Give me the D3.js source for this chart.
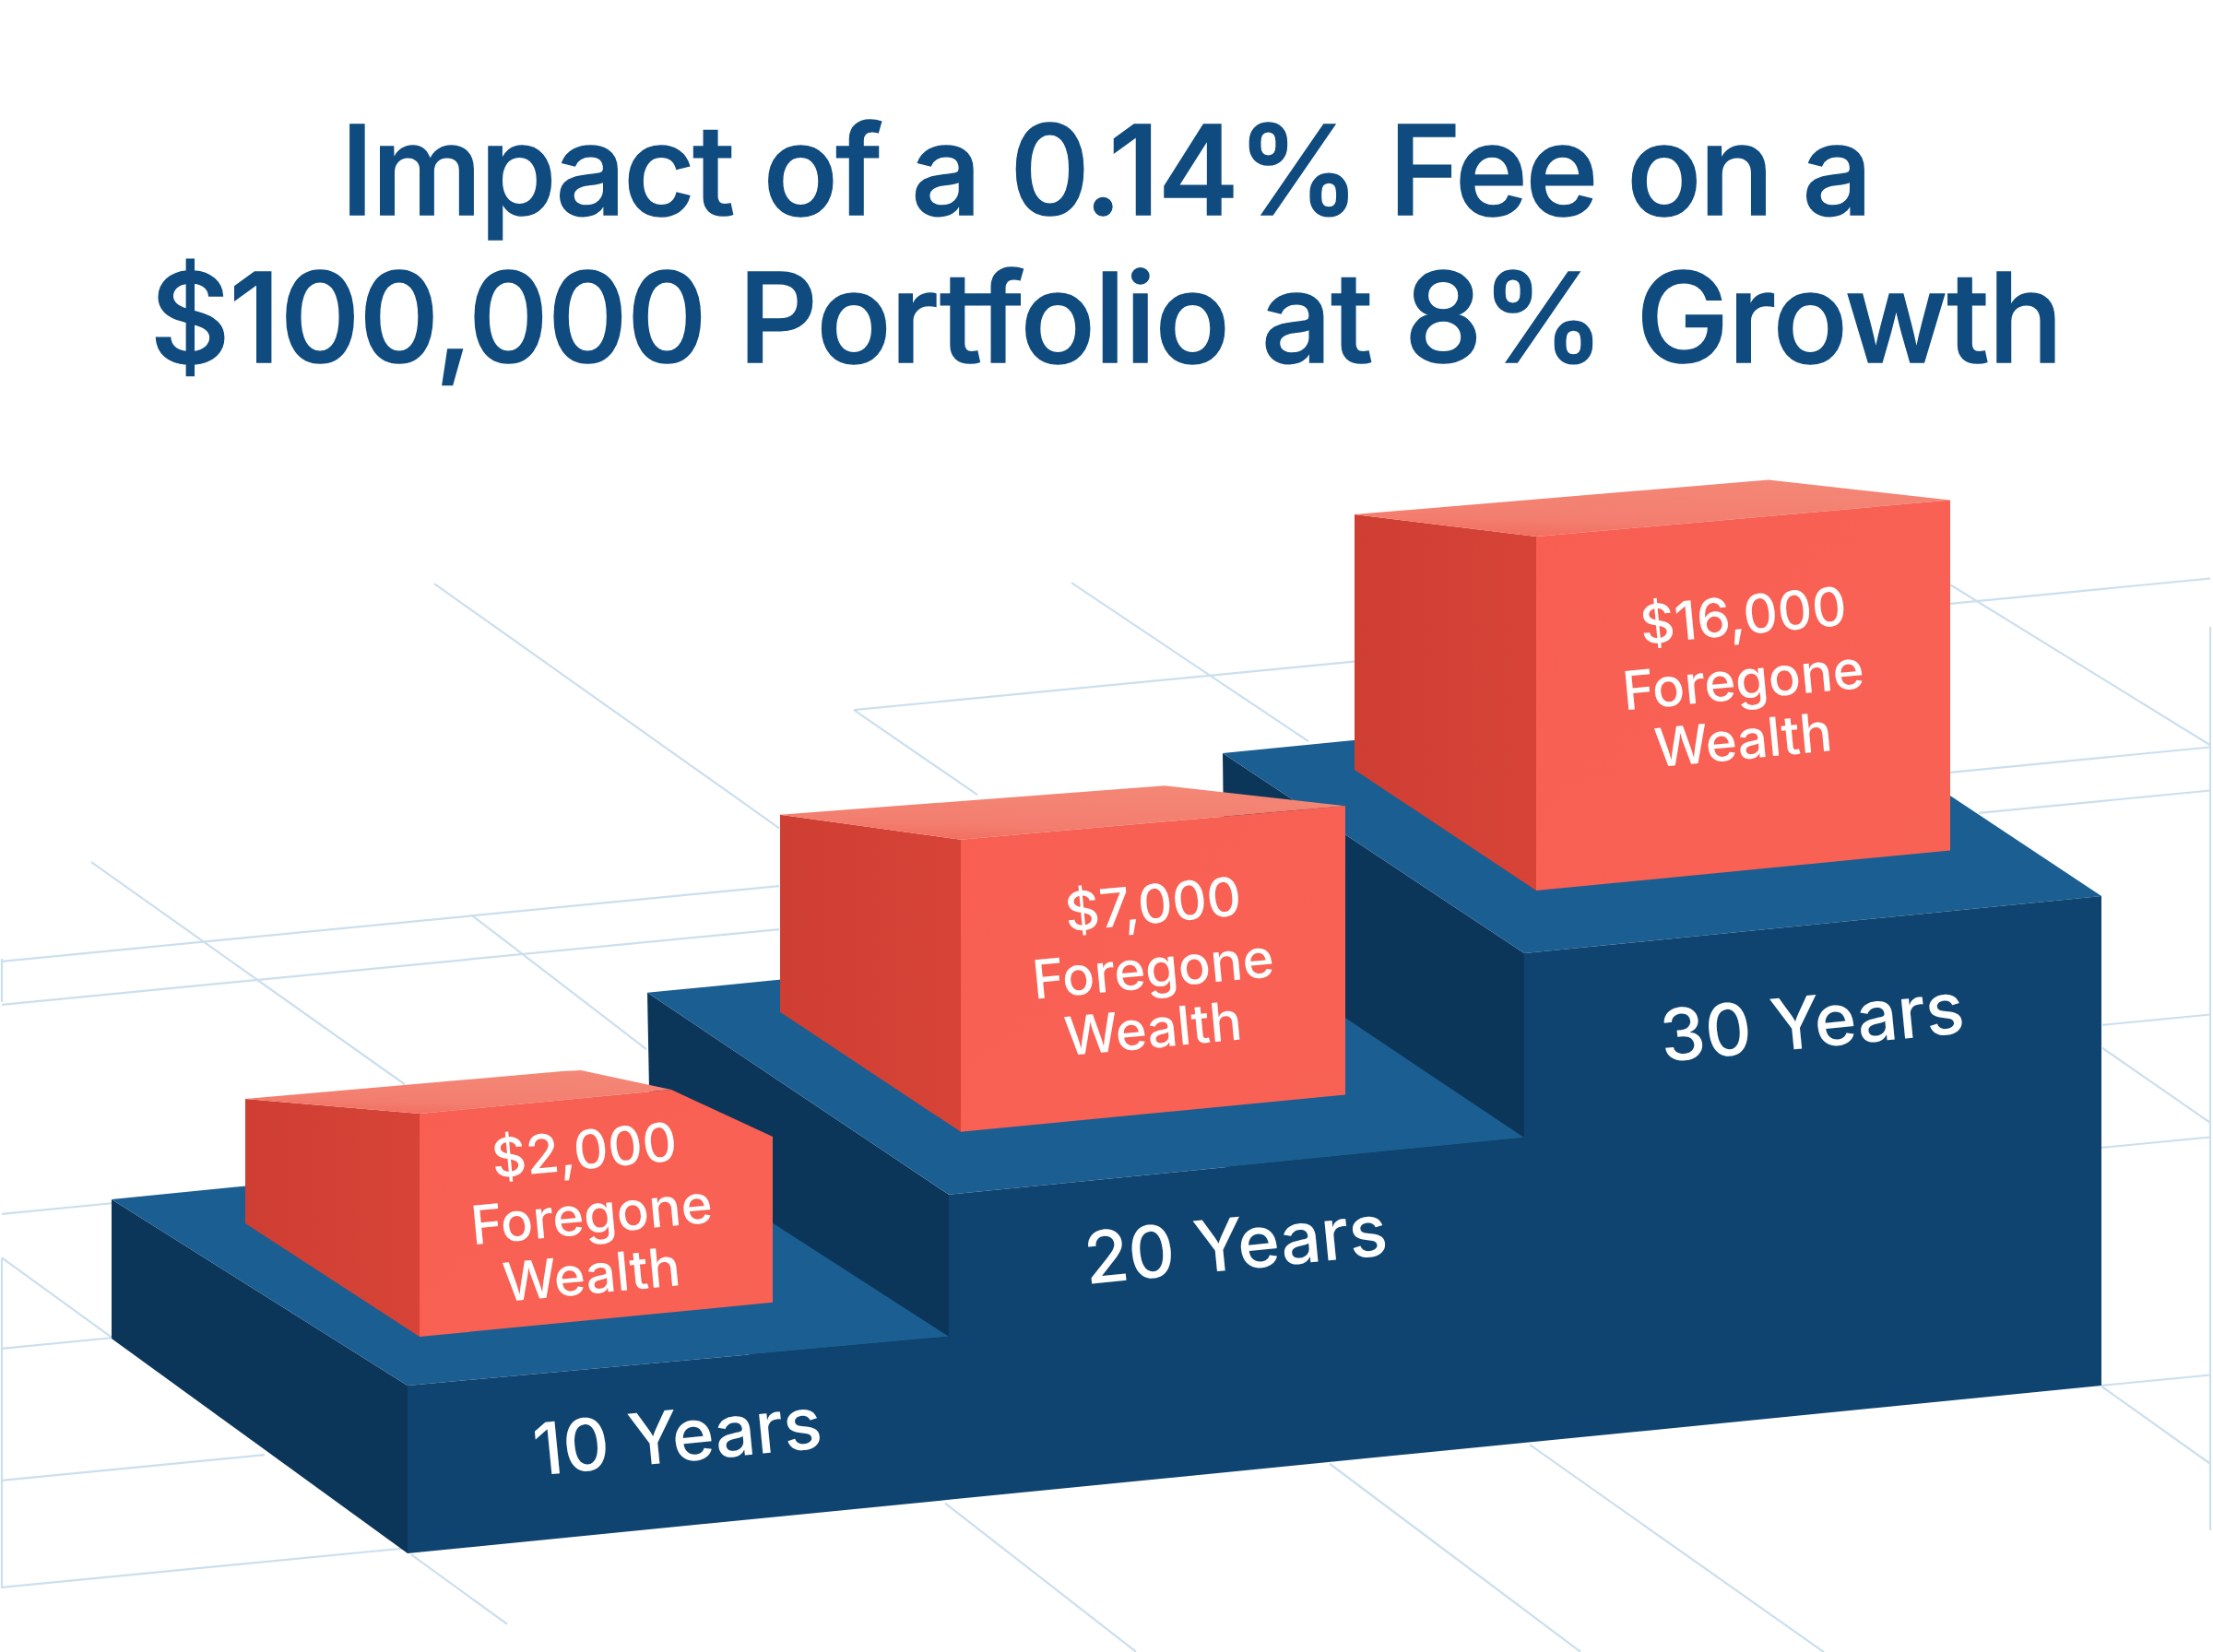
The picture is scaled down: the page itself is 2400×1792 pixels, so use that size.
<!DOCTYPE html>
<html>
<head>
<meta charset="utf-8">
<title>Impact of a 0.14% Fee</title>
<script src="https://cdn.jsdelivr.net/npm/d3@7/dist/d3.min.js"></script>
<style>
  html, body { margin: 0; padding: 0; background: #ffffff; }
  svg { display: block; }
  text { font-family: Inter, "Noto Sans", sans-serif; }
</style>
</head>
<body>
<div id="chart"></div>
<script>
const width = 2400;
const height = 1792;

const titleLines = ['Impact of a 0.14% Fee on a', '$100,000 Portfolio at 8% Growth'];
const years = [10, 20, 30];
const foregone = [2000, 7000, 16000];
const foregoneCaption = ['Foregone', 'Wealth'];

// floor grid behind the blocks: cross lines [height at x = 0, from x, to x]
const floorCross = [
  [860, 926, 1471], [860, 2115, 2397],
  [1043, 2, 845], [1043, 2115, 2397],
  [1090, 2, 845], [1090, 2146, 2397],
  [1317, 2, 121], [1333, 2280, 2397],
  [1463, 2, 121], [1466, 2279, 2397],
  [1606, 2, 287],
  [1722, 2, 441], [1724, 2279, 2397],
];
// floor grid depth lines [x where it meets y = 0, slope, from x, to x]
const floorDepth = [
  [-422, 0.709, 471, 845], [-1220, 0.709, 99, 439], [-781, 0.768, 511, 701],
  [-1880, 0.725, 2, 121], [-1880, 0.725, 446, 550], [-195, 0.687, 926, 1060],
  [217, 0.669, 1162, 1419], [1087, 0.617, 2115, 2397], [642, 0.694, 2280, 2397],
  [167, 0.712, 2279, 2397], [-1071, 0.778, 1025, 1232], [-675, 0.75, 1442, 1714],
  [-564, 0.705, 1659, 1978],
];
// edge lines of the floor [x, from y, to y]
const floorEdge = [[2, 1040, 1087], [2, 1365, 1723], [2397, 680, 1660]];

// steps
const xYears = d3.scaleLinear([10, 20, 30, 40], [442, 1029, 1653, 2279]);
const floorY = d3.scaleLinear([442, 2279], [1685, 1503]);
const stepHeight = d3.scaleLinear(years, [182, 331, 531]);
const stepHeightRight = d3.scaleLinear(years, [177, 331, 531]);
const stepDepthX = d3.scaleLinear(years, [321, 327, 327]);
const stepDepthY = d3.scaleLinear(years, [202, 219, 217]);
const stepLabelDrop = d3.scaleLinear(years, [81, 84, 105]);

// red boxes, sized from the foregone amount
const boxWidth = d3.scaleLinear(foregone, [383, 417, 449]);
const boxHeight = d3.scaleLinear(foregone, [242, 317, 384]);
const boxBackHeight = d3.scaleLinear(foregone, [135, 214, 277]);
const boxDepthX = d3.scaleLinear(foregone, [189, 196, 197]);
const boxDepthY = d3.scaleLinear(foregone, [123, 130, 131]);
const boxInset = d3.scaleLinear(foregone, [53, 68, 68]);
const boxLabelDrop = d3.scaleLinear(foregone, [126, 158, 175]);
const boxLabelShift = d3.scaleLinear(foregone, [-5, 0, 0]);
const boxAmountShift = d3.scaleLinear(foregone, [-8, 0, 0]);

const money = d3.format('$,');
const polygon = (pts) => `M${pts.map((p) => p.join(',')).join('L')}Z`;

const svg = d3.select('#chart')
  .append('svg')
  .attr('width', width)
  .attr('height', height)
  .attr('viewBox', `0 0 ${width} ${height}`);

svg.append('rect').attr('width', width).attr('height', height).attr('fill', '#ffffff');

const defs = svg.append('defs');
const addGradient = (id, x1, y1, x2, y2, stops) => {
  const g = defs.append('linearGradient').attr('id', id)
    .attr('x1', x1).attr('y1', y1).attr('x2', x2).attr('y2', y2);
  stops.forEach(([o, c]) => g.append('stop').attr('offset', o).attr('stop-color', c));
};
addGradient('boxTop', 0.7, 0, 0.4, 1, [[0, '#f48777'], [0.75, '#f37e6f'], [1, '#f27062']]);
addGradient('boxLeft', 0, 0, 1, 0, [[0, '#cf3e33'], [1, '#d74337']]);
addGradient('boxFront', 0, 0, 1, 1, [[0, '#f85f52'], [1, '#f86254']]);

// floor grid
const grid = svg.append('g')
  .attr('stroke', '#cbdfee')
  .attr('stroke-width', 2.2)
  .attr('fill', 'none');

grid.selectAll('.cross').data(floorCross).enter().append('line')
  .attr('x1', (d) => d[1])
  .attr('y1', (d) => d[0] - 0.097 * d[1])
  .attr('x2', (d) => d[2])
  .attr('y2', (d) => d[0] - 0.097 * d[2]);

grid.selectAll('.depth').data(floorDepth).enter().append('line')
  .attr('x1', (d) => d[2])
  .attr('y1', (d) => d[1] * (d[2] - d[0]))
  .attr('x2', (d) => d[3])
  .attr('y2', (d) => d[1] * (d[3] - d[0]));

grid.selectAll('.edge').data(floorEdge).enter().append('line')
  .attr('x1', (d) => d[0]).attr('y1', (d) => d[1])
  .attr('x2', (d) => d[0]).attr('y2', (d) => d[2]);

// title, fitted to the width the lines have in the picture
const titleWidths = [1662, 2075];
svg.selectAll('.title').data(titleLines).enter().append('text')
  .attr('class', 'title')
  .attr('x', 1200)
  .attr('y', (d, i) => 233 + i * 160)
  .attr('text-anchor', 'middle')
  .attr('font-size', 135)
  .attr('font-weight', 500)
  .attr('textLength', (d, i) => titleWidths[i])
  .attr('lengthAdjust', 'spacing')
  .attr('fill', '#0f4b7f')
  .attr('stroke', '#0f4b7f')
  .attr('stroke-width', 1.5)
  .text((d) => d);

// blocks go back to front, tallest first
const rows = years.map((y, i) => ({ year: y, value: foregone[i] })).reverse();

rows.forEach((d) => {
  const x0 = xYears(d.year);
  const x1 = xYears(d.year + 10);
  const h = stepHeight(d.year);
  const dx = stepDepthX(d.year);
  const dy = stepDepthY(d.year);
  const frontLeft = [x0, floorY(x0) - h];
  const frontRight = [x1, floorY(x1) - stepHeightRight(d.year)];
  const backRightY = floorY(x1) - h - dy;
  const step = svg.append('g');

  step.append('path')
    .attr('fill', '#0c3659')
    .attr('d', polygon([
      frontLeft,
      [x0 - dx, frontLeft[1] - dy],
      [x0 - 321, floorY(x0) - 233],
      [x0, floorY(x0)],
    ]));
  step.append('path')
    .attr('fill', '#1b5e91')
    .attr('d', polygon([
      frontLeft,
      frontRight,
      [x1 - dx, backRightY],
      [x0 - dx, frontLeft[1] - dy],
    ]));
  step.append('path')
    .attr('fill', '#104470')
    .attr('d', polygon([frontLeft, frontRight, [x1, floorY(x1)], [x0, floorY(x0)]]));

  step.append('text')
    .attr('transform', `translate(${(x0 + x1) / 2 - 1},${(frontLeft[1] + frontRight[1]) / 2 + stepLabelDrop(d.year)}) rotate(-5.6)`)
    .attr('text-anchor', 'middle')
    .attr('dy', '0.36em')
    .attr('font-size', 78)
    .attr('font-weight', 500)
    .attr('fill', '#ffffff')
    .text(`${d.year} Years`);

  // red box standing on the step
  const w = boxWidth(d.value);
  const bh = boxHeight(d.value);
  const bdx = boxDepthX(d.value);
  const left = x0 + 13;
  const bottom = frontLeft[1] - boxInset(d.value);
  const right = left + w;
  const rightBottom = bottom - 0.097 * w;
  const top = bottom - bh;
  const rightTop = top - 0.088 * w;
  const backBottom = bottom - boxDepthY(d.value);
  const backTop = backBottom - boxBackHeight(d.value);
  const box = svg.append('g');

  box.append('path')
    .attr('fill', 'url(#boxLeft)')
    .attr('d', polygon([[left, top], [left - bdx, backTop], [left - bdx, backBottom], [left, bottom]]));

  // the smallest box has its far right corner cut back
  const clipped = d.value === foregone[0];
  box.append('path')
    .attr('fill', 'url(#boxTop)')
    .attr('d', polygon(clipped
      ? [[left, top], [left - bdx, backTop], [left + 155, top - 46], [left + 175, top - 47], [left + 273, top - 26]]
      : [[left, top], [left - bdx, backTop], [right - bdx, rightTop - 22], [right, rightTop]]));

  box.append('path')
    .attr('fill', 'url(#boxFront)')
    .attr('d', polygon(clipped
      ? [[left, top], [left + 273, top - 26], [right, top + 25], [right, rightBottom], [left, bottom]]
      : [[left, top], [right, rightTop], [right, rightBottom], [left, bottom]]));

  const cx = left + w / 2 + boxLabelShift(d.value);
  const cy = top - 0.088 * w / 2 + boxLabelDrop(d.value);
  const lines = [
    { text: money(d.value), x: cx + boxAmountShift(d.value), y: cy - 70 },
    { text: foregoneCaption[0], x: cx, y: cy },
    { text: foregoneCaption[1], x: cx, y: cy + 65 },
  ];
  box.selectAll('text').data(lines).enter().append('text')
    .attr('transform', (l) => `translate(${l.x},${l.y}) rotate(-5.4)`)
    .attr('text-anchor', 'middle')
    .attr('dy', '0.36em')
    .attr('font-size', 58)
    .attr('font-weight', 500)
    .attr('fill', '#ffffff')
    .text((l) => l.text);
});
</script>
</body>
</html>
